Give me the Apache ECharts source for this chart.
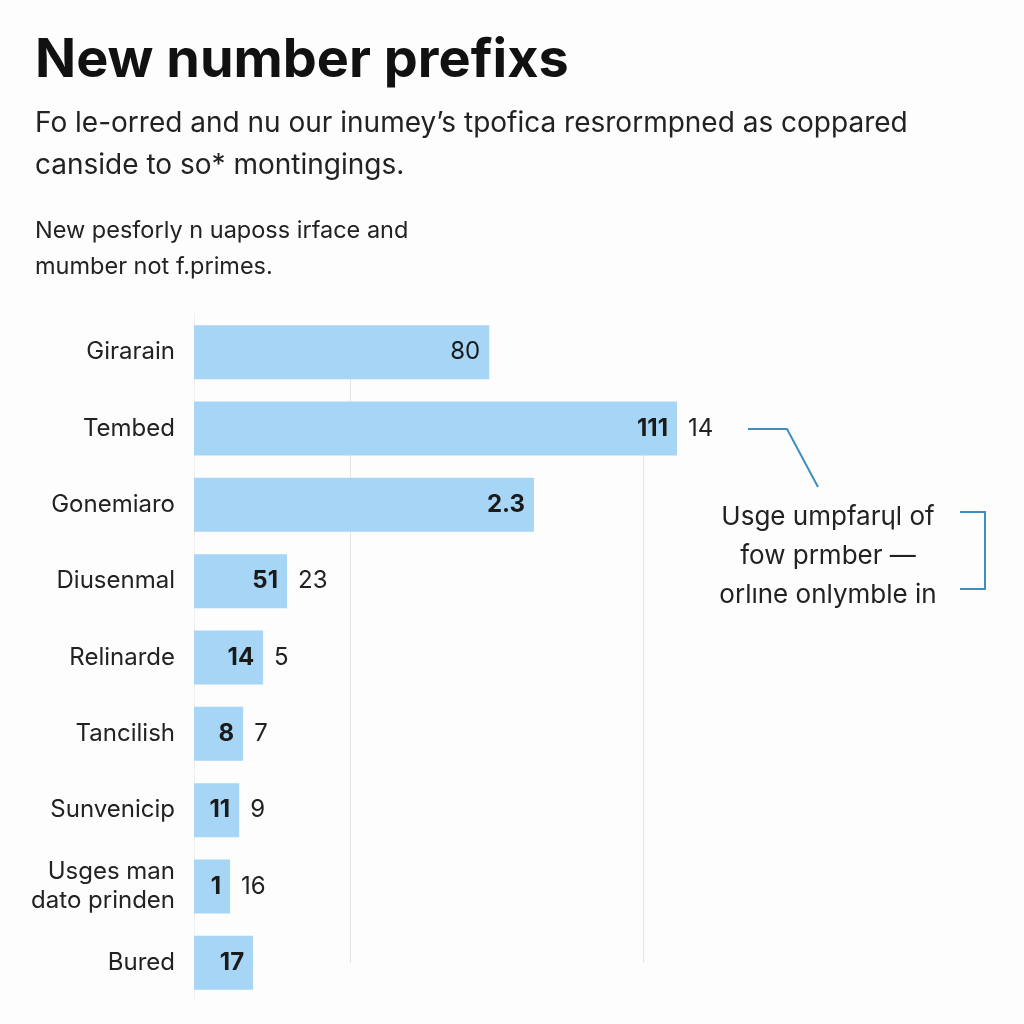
<!DOCTYPE html>
<html lang="en">
<head>
    <meta charset="UTF-8">
    <title>New number prefixs</title>
    <script src="https://cdn.jsdelivr.net/npm/echarts@6/dist/echarts.min.js"></script>
    <style>
        html, body { margin: 0; padding: 0; background: #fdfdfd; }
        #chart1 { width: 1024px; height: 1024px; }
    </style>
</head>
<body>
<div id="chart1"></div>
<script type="text/javascript">
    // categories top to bottom
    var categories = ['Girarain', 'Tembed', 'Gonemiaro', 'Diusenmal', 'Relinarde',
        'Tancilish', 'Sunvenicip', 'Usges man\ndato prinden', 'Bured'];
    // bar lengths
    var barValues = [67.9, 111.1, 78.2, 21.4, 15.9, 11.3, 10.4, 8.3, 13.6];
    // numbers printed inside the bars
    var innerLabels = ['80', '111', '2.3', '51', '14', '8', '11', '1', '17'];
    // numbers printed after the bars
    var outerLabels = ['', '14', '', '23', '5', '7', '9', '16', ''];
    // light vertical guides
    var guideValues = [35.9, 103.3];

    var font = 'Inter, "Noto Sans", sans-serif';
    var blue = '#3d8fbf';

    var myChart1 = echarts.init(document.getElementById('chart1'));

    var option = {
        backgroundColor: '#fdfdfd',
        animation: false,
        title: [
            {
                text: 'New number prefixs', left: 30, top: 29,
                textStyle: {fontFamily: font, fontSize: 54, fontWeight: 'bold', color: '#111'}
            },
            {
                text: 'Fo le-orred and nu our inumey\u2019s tpofica resrormpned as coppared\ncanside to so* montingings.',
                left: 30, top: 98,
                textStyle: {fontFamily: font, fontSize: 28, fontWeight: 'normal', color: '#222', lineHeight: 42}
            },
            {
                text: 'New pesforly n uaposs irface and\nmumber not f.primes.',
                left: 30, top: 208,
                textStyle: {fontFamily: font, fontSize: 23.5, fontWeight: 'normal', color: '#222', lineHeight: 36}
            }
        ],
        grid: {left: 194, right: 4, top: 314, bottom: 23, containLabel: false},
        xAxis: {
            type: 'value', min: 0, max: 190,
            axisLabel: {show: false}, axisLine: {show: false},
            axisTick: {show: false}, splitLine: {show: false}
        },
        yAxis: {
            type: 'category', inverse: true, data: categories,
            axisLine: {show: true, lineStyle: {color: '#efefef'}},
            axisTick: {show: false},
            axisLabel: {
                margin: 19, fontFamily: font, fontSize: 24, color: '#222', lineHeight: 29
            }
        },
        series: [
            {
                type: 'bar', barWidth: 54, z: 2,
                itemStyle: {color: '#a6d5f5'},
                data: barValues.map(function (v, i) {
                    return {value: v, label: {fontWeight: i === 0 ? 'normal' : 'bold'}};
                }),
                label: {
                    show: true, position: 'insideRight', distance: 9,
                    fontFamily: font, fontSize: 24, color: '#1a1a1a',
                    formatter: function (p) { return innerLabels[p.dataIndex]; }
                },
                markLine: {
                    silent: true, symbol: 'none', z: 1,
                    label: {show: false},
                    lineStyle: {color: '#e4e4e4', width: 1, type: 'solid'},
                    data: [
                        [{coord: [guideValues[0], categories[0]]}, {coord: [guideValues[0], categories[8]]}],
                        [{coord: [guideValues[1], categories[1]]}, {coord: [guideValues[1], categories[8]]}]
                    ]
                }
            },
            {
                type: 'bar', barWidth: 54, barGap: '-100%', z: 3,
                itemStyle: {color: 'rgba(0,0,0,0)'},
                data: barValues,
                label: {
                    show: true, position: 'right', distance: 11,
                    fontFamily: font, fontSize: 24, color: '#222',
                    formatter: function (p) { return outerLabels[p.dataIndex]; }
                }
            }
        ],
        graphic: [
            {
                type: 'polyline', silent: true,
                shape: {points: [[748, 429], [787, 429], [818, 487]]},
                style: {stroke: blue, lineWidth: 2, fill: null}
            },
            {
                type: 'polyline', silent: true,
                shape: {points: [[960, 512], [985, 512], [985, 589], [960, 589]]},
                style: {stroke: blue, lineWidth: 2, fill: null}
            },
            {
                type: 'text', silent: true, x: 828, y: 498,
                style: {
                    text: 'Usge umpfar\u0265l of\nfow prmber \u2014\norl\u0131ne onlymble in',
                    font: '26px ' + font, fill: '#222', align: 'center',
                    lineHeight: 39
                }
            }
        ]
    };

    myChart1.setOption(option);
</script>
</body>
</html>
